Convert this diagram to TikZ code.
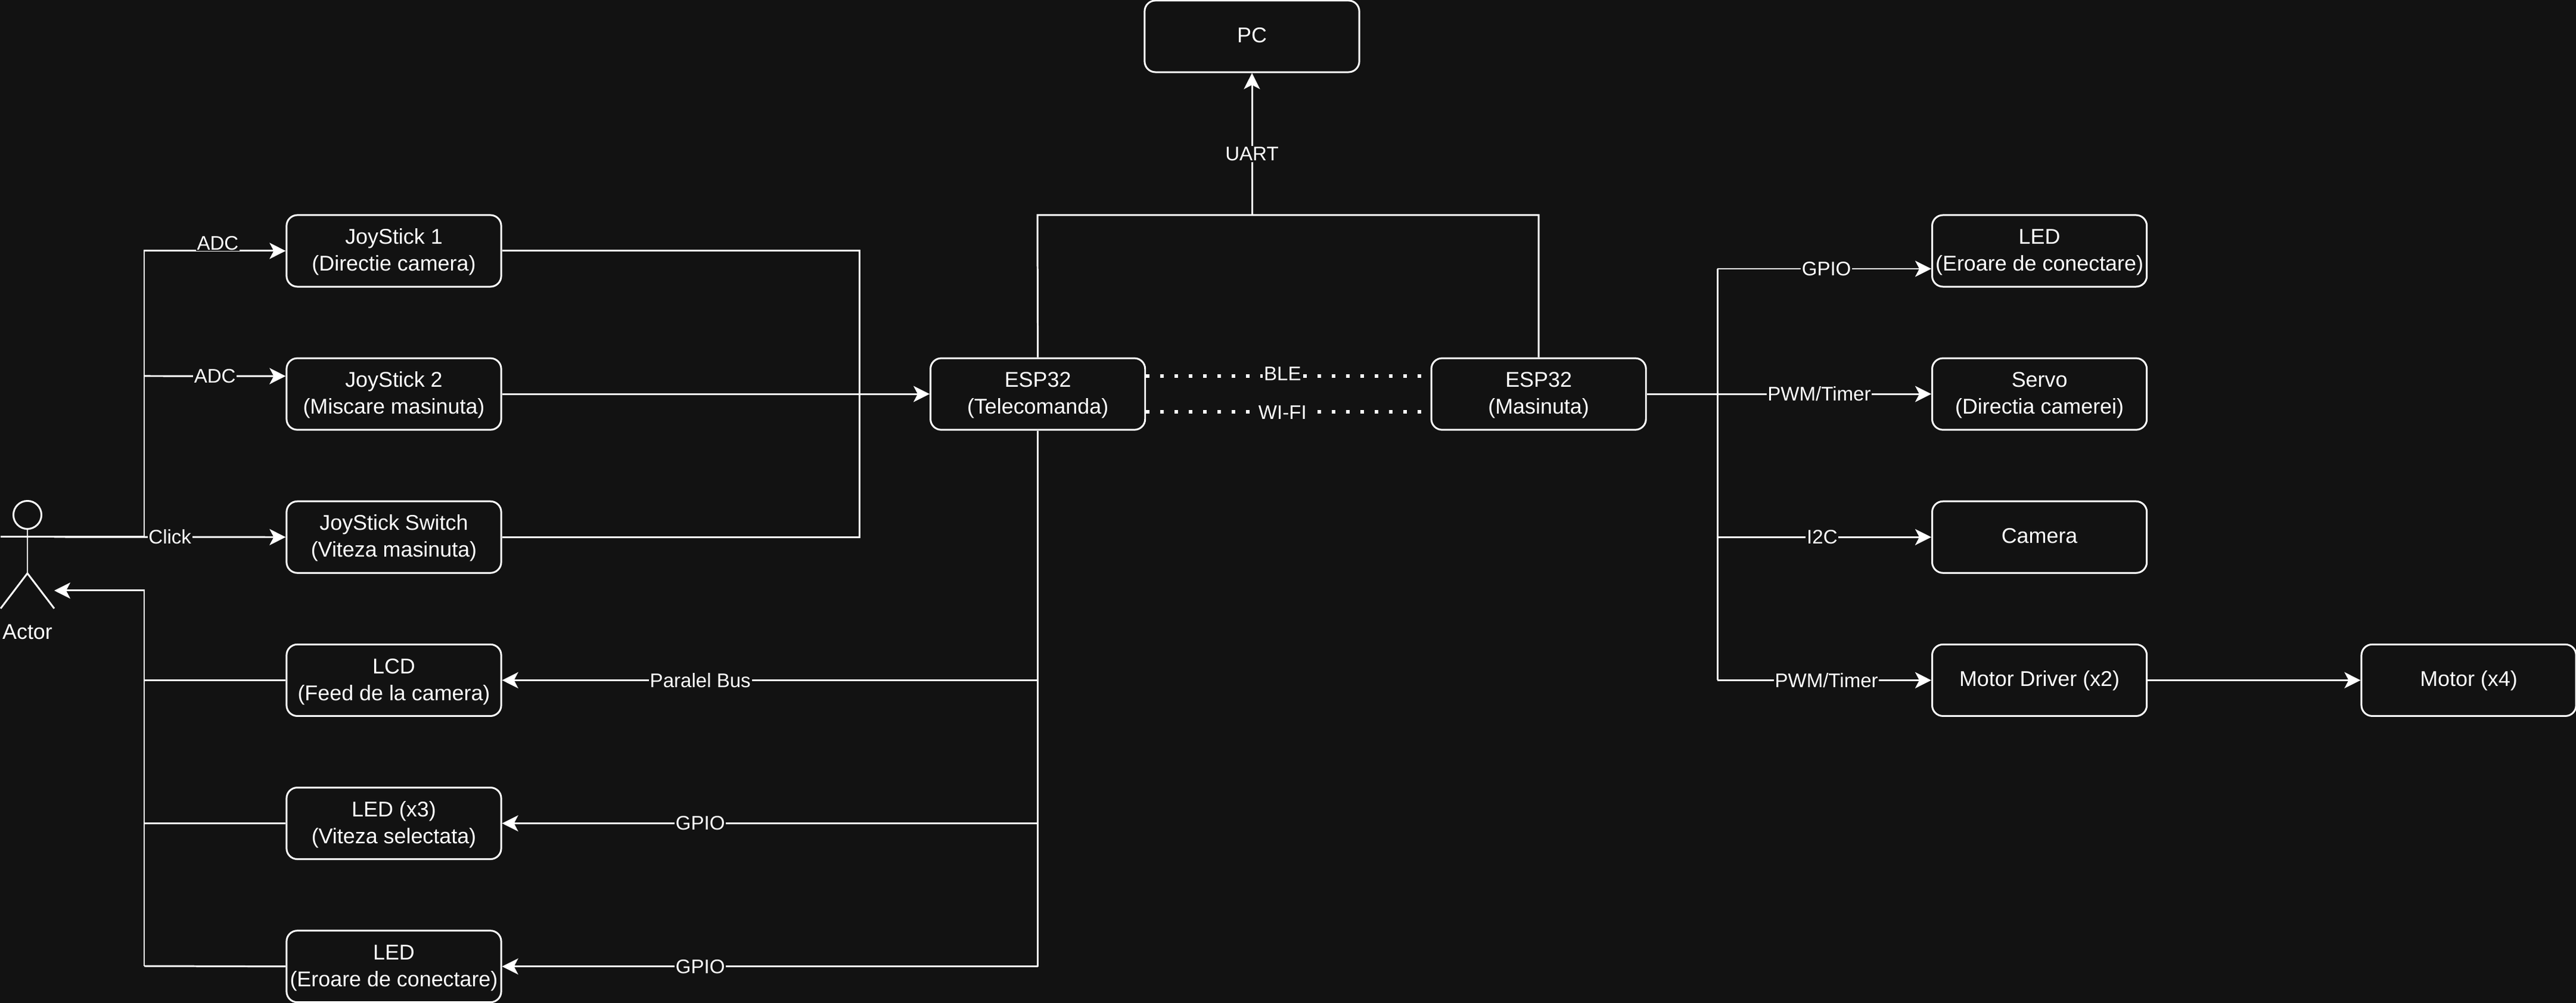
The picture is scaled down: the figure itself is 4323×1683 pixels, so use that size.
\documentclass[tikz,border=0pt]{standalone}
\usepackage{fontspec}
\setmainfont{Liberation Sans}
\usetikzlibrary{arrows.meta}
\definecolor{bgdark}{RGB}{18,18,18}

\begin{document}
\begin{tikzpicture}[x=0.01cm,y=-0.01cm,white,line width=0.85pt,>={Stealth[length=0.27cm,width=0.27cm,inset=0.07cm]},
  block/.style={draw=white,fill=bgdark,rounded corners=0.18cm,minimum width=3.6cm,minimum height=1.2cm,inner sep=0pt,align=center,text height=21.7pt,text depth=2.55pt,font=\fontsize{10.2}{12.8}\selectfont},
  single/.style={block,text height=7pt,text depth=1pt},
  lbl/.style={fill=bgdark,inner sep=0.5pt,font=\fontsize{9.4}{11}\selectfont},
  radio/.style={line width=0.06cm,dash pattern=on 0.06cm off 0.18cm},
  node distance=2.4cm]
  \path[fill=bgdark,use as bounding box] (0,0) rectangle (4323,1683);

  % left column
  \node[block] (joy1) at (661,421) {JoyStick 1\\(Directie camera)};
  \node[block] (joy2) [below of=joy1] {JoyStick 2\\(Miscare masinuta)};
  \node[block] (joy3) [below of=joy2] {JoyStick Switch\\(Viteza masinuta)};
  \node[block] (lcd) [below of=joy3] {LCD\\(Feed de la camera)};
  \node[block] (led3) [below of=lcd] {LED (x3)\\(Viteza selectata)};
  \node[block] (led1) [below of=led3] {LED\\(Eroare de conectare)};

  % middle
  \node[block] (esp1) [right of=joy2,node distance=10.8cm] {ESP32\\(Telecomanda)};
  \node[block] (esp2) [right of=esp1,node distance=8.4cm] {ESP32\\(Masinuta)};
  \node[single] (pc) at (2101,61) {PC};

  % right column
  \node[block] (servo) [right of=esp2,node distance=8.4cm] {Servo\\(Directia camerei)};
  \node[block] (ledr) [above of=servo] {LED\\(Eroare de conectare)};
  \node[single] (cam) [below of=servo] {Camera};
  \node[single] (driver) [below of=cam] {Motor Driver (x2)};
  \node[single] (motor) [right of=driver,node distance=7.2cm] {Motor (x4)};

  % actor
  \node[circle,draw,minimum size=0.47cm,inner sep=0pt] (head) at (46,864) {};
  \coordinate (hip) at (46,962);
  \coordinate (armL) at (1,901);
  \coordinate (armR) at (91,901);
  \coordinate (footL) at (1,1021);
  \coordinate (footR) at (91,1021);
  \coordinate (actorin) at (91,991);
  \draw (head) -- (hip);
  \draw (armL) -- (armR);
  \draw (footL) -- (hip) -- (footR);
  \node[font=\fontsize{10.2}{12}\selectfont] (actor) at (46,1060) {Actor};

  % actor to joysticks
  \coordinate (trunkA) at (242,901);
  \coordinate (trunkB) at (242,631);
  \coordinate (joy2in) at ([yshift=0.3cm]joy2.west);
  \draw[->] (armR) -- (trunkA) |- node[lbl,pos=0.76,yshift=0.13cm] {ADC} (joy1.west);
  \path[->] (trunkB) edge node[lbl] {ADC} (joy2in);
  \path[->] (armR) edge node[lbl,pos=0.5] {Click} (joy3.west);

  % joysticks to esp
  \coordinate (merge) at (1442,661);
  \draw (joy1.east) -| (merge);
  \draw (joy3.east) -| (merge);
  \path[->] (joy2.east) edge (esp1.west);

  % display side back to actor
  \coordinate (trunkC) at (242,1621);
  \draw (lcd.west) -- (lcd.west -| trunkC);
  \draw (led3.west) -- (led3.west -| trunkC);
  \draw (led1.west) -- (trunkC);
  \draw[->] (trunkC) |- (actorin);

  % esp to outputs
  \coordinate (busA) at (esp1.south |- lcd.east);
  \coordinate (busB) at (esp1.south |- led3.east);
  \coordinate (busC) at (esp1.south |- led1.east);
  \draw (esp1.south) -- (busC);
  \path[->] (busA) edge node[lbl,pos=0.63] {Paralel Bus} (lcd.east);
  \path[->] (busB) edge node[lbl,pos=0.63] {GPIO} (led3.east);
  \path[->] (busC) edge node[lbl,pos=0.63] {GPIO} (led1.east);

  % uart
  \coordinate (top) at (1741,361);
  \coordinate (uart) at (pc.south |- top);
  \draw (esp1.north) -- (top) -| (esp2.north);
  \path[->] (uart) edge node[lbl,pos=0.43] {UART} (pc.south);

  % radio links
  \draw[radio] ([yshift=0.3cm]esp1.east) -- node[lbl,pos=0.48,yshift=0.04cm] {BLE} ([yshift=0.3cm]esp2.west);
  \draw[radio] ([yshift=-0.3cm]esp1.east) -- node[lbl,pos=0.48,yshift=-0.01cm] {WI-FI} ([yshift=-0.3cm]esp2.west);

  % car side
  \coordinate (trunkR) at (2882,661);
  \coordinate (ledin) at ([yshift=-0.3cm]ledr.west);
  \coordinate (trunkT) at (trunkR |- ledin);
  \coordinate (trunkD) at (trunkR |- driver.west);
  \draw (trunkT) -- (trunkD);
  \path[->] (trunkT) edge node[lbl,pos=0.51] {GPIO} (ledin);
  \path[->] (esp2.east) edge node[lbl,pos=0.606] {PWM/Timer} (servo.west);
  \path[->] (trunkR |- cam.west) edge node[lbl,pos=0.49] {I2C} (cam.west);
  \path[->] (trunkD) edge node[lbl,pos=0.51] {PWM/Timer} (driver.west);
  \path[->] (driver.east) edge (motor.west);
\end{tikzpicture}
\end{document}
